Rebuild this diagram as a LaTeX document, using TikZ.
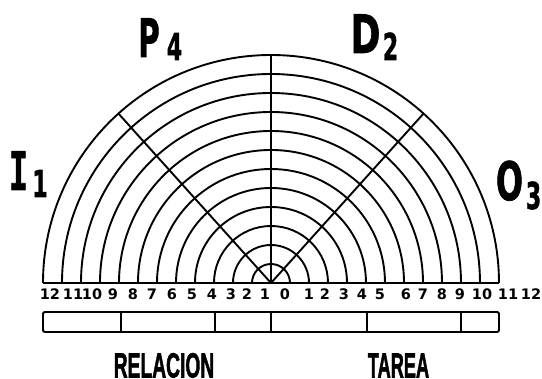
\documentclass[tikz,border=0pt]{standalone}
\usepackage{fontspec}
\setmainfont{DejaVu Sans}
\newfontfamily\capfont{Liberation Sans}[FakeBold=2]
\newfontfamily\bigfont{DejaVu Sans}[FakeBold=1.5]
\newfontfamily\ifont{DejaVu Sans Mono}[FakeBold=1.5]
\begin{document}
\begin{tikzpicture}[x=1pt,y=1pt,
  ln/.style={line width=1.9pt},
  num/.style={inner sep=0pt,anchor=base,font=\bfseries\fontsize{14.5}{14.5}\selectfont},
  big/.style={inner sep=0pt,anchor=base,font=\bigfont\bfseries\fontsize{53}{53}\selectfont},
  sub/.style={inner sep=0pt,anchor=base,font=\bigfont\bfseries\fontsize{37}{37}\selectfont},
  captext/.style={inner sep=0pt,anchor=base,font=\capfont\bfseries\fontsize{35}{35}\selectfont}]
\useasboundingbox (-271,-96) rectangle (271,283);
% geometry
\coordinate (C) at (0,0);
\coordinate (L) at (-228,0);
\coordinate (R) at (228,0);
\coordinate (T) at (90:228);
\coordinate (DL) at (132:228);
\coordinate (DR) at (48:228);
\foreach \k in {1,...,12}
  \draw[ln] ({19*\k},0) arc[start angle=0,end angle=180,radius={19*\k}];
\draw[ln] (L) -- (R);
\draw[ln] (C) -- (T);
\draw[ln] (C) -- (DL);
\draw[ln] (C) -- (DR);
% bar
\draw[ln,rounded corners=1.5pt] (-228,-29) rectangle (228,-49);
\foreach \xx in {-150,-56,0,96,190}
  \draw[ln] (\xx,-29) -- (\xx,-49);
% numbers
\foreach \xx/\t in {50/12,73/11,92/10,113/9,133/8,152/7,172/6,192/5,212/4,231/3,247/2,265/1,
  285/0,309/1,325/2,344/3,362/4,380/5,406/6,423/7,442/8,460/9,482/10,508/11,531/12}
  \node[num] at ({\xx-271},-17) {\t};
% labels
\node[big] (I) at (-252.5,93) {\ifont\bfseries\scalebox{0.6}[1]{I}};
\node[sub] (I1) at (-231,86) {\scalebox{0.6}[1]{1}};
\node[big] (P) at (-122,226) {\scalebox{0.55}[1]{P}};
\node[sub] (P4) at (-96.5,223) {\scalebox{0.6}[1]{4}};
\node[big] (D) at (94.5,230) {\scalebox{0.68}[1]{D}};
\node[sub] (D2) at (119.5,223) {\scalebox{0.6}[1]{2}};
\node[big] (O) at (238.5,83) {\scalebox{0.6}[1]{O}};
\node[sub] (O3) at (262.5,74) {\scalebox{0.6}[1]{3}};
\node[captext] (rel) at (-107,-94.5) {\scalebox{0.55}[1]{RELACION}};
\node[captext] (tar) at (127.5,-94.5) {\scalebox{0.52}[1]{TAREA}};
\end{tikzpicture}
\end{document}
